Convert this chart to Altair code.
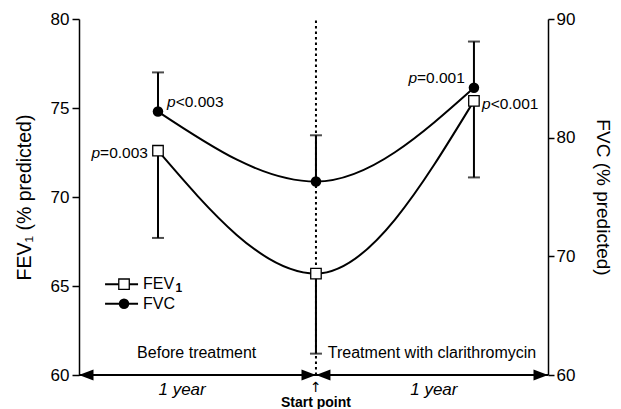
import altair as alt
import pandas as pd

# ---- data ----
months = [-8, 0, 8]                 # months relative to the start of clarithromycin
fev1 = [72.6, 65.7, 75.4]           # FEV1 (% predicted), left axis
fev1_low = [67.7, 61.2, 71.1]       # lower error bar end
fvc = [82.2, 76.3, 84.2]            # FVC (% predicted), right axis
fvc_high = [85.5, 80.2, 88.1]       # upper error bar end

x_domain = [-12, 11.75]
fev_domain = [60, 80]
fvc_domain = [60, 90]
fev_ticks = [60, 65, 70, 75, 80]
fvc_ticks = [60, 70, 80, 90]

# annotation positions (x in months, y in FEV1 units)
period_text = ["Before treatment", "Treatment with clarithromycin"]
period_x = [-6.04, 0.6]
period_y = [61.24, 61.24]
year_text = ["1 year", "1 year"]
year_x = [-6.78, 5.97]
year_y = [59.16, 59.16]

p_left_text = ["<0.003", "<0.001"]      # left-aligned labels
p_left_x = [-7.54, 8.41]
p_left_y = [75.34, 75.22]
p_right_text = ["=0.003", "=0.001"]     # right-aligned labels
p_right_x = [-8.51, 7.54]
p_right_y = [72.47, 76.69]

legend_labels = ["FEV", "FVC"]
legend_sub = ["1", ""]
legend_y = [65.1, 64.0]
legend_x0, legend_x1, legend_xm, legend_xt = -10.68, -9.01, -9.72, -8.76

FONT = "Liberation Sans"
FS = 16

df = pd.DataFrame({"month": months, "fev1": fev1, "fev1_low": fev1_low,
                   "fvc": fvc, "fvc_high": fvc_high})

xs = alt.Scale(domain=x_domain, nice=False, zero=False)
ls = alt.Scale(domain=fev_domain, nice=False, zero=False)
rs = alt.Scale(domain=fvc_domain, nice=False, zero=False)

left_axis = alt.Axis(values=fev_ticks, orient="left", grid=False, tickSize=7,
                     labelPadding=3, titlePadding=16, labelFontSize=17,
                     titleFontSize=19.5, titleFontWeight="normal",
                     labelFont=FONT, titleFont=FONT)
right_axis = alt.Axis(values=fvc_ticks, orient="right", grid=False, tickSize=6,
                      labelPadding=2, titlePadding=18, labelFontSize=17,
                      titleFontSize=19, titleFontWeight="normal",
                      labelFont=FONT, titleFont=FONT)
LT = "FEV\u2081 (% predicted)"
RT = "FVC (% predicted)"


def X(field="month"):
    return alt.X(f"{field}:Q", scale=xs, axis=None)


def LY(field):
    return alt.Y(f"{field}:Q", scale=ls, axis=left_axis, title=LT)


def RY(field):
    return alt.Y(f"{field}:Q", scale=rs, axis=right_axis, title=RT)


base = alt.Chart(df)

# ---- FEV1 (left) layer with annotations ----
vline = alt.Chart(pd.DataFrame({"x": [0], "y": [fev_domain[0]], "y2": [fev_domain[1]]})).mark_rule(
    color="black", strokeWidth=2, strokeDash=[2.5, 3]).encode(x=X("x"), y=LY("y"), y2="y2")

hline = alt.Chart(pd.DataFrame({"x": [x_domain[0]], "x2": [x_domain[1]], "y": [fev_domain[0]]})).mark_rule(
    color="black", strokeWidth=2).encode(x=X("x"), x2="x2", y=LY("y"))

arrows_left = alt.Chart(pd.DataFrame({"x": [x_domain[0], 0], "y": [fev_domain[0]] * 2})).mark_point(
    shape="M0,0L2,-0.75L2,0.75Z", size=210, filled=True, color="black", opacity=1
).encode(x=X("x"), y=LY("y"))
arrows_right = alt.Chart(pd.DataFrame({"x": [0, x_domain[1]], "y": [fev_domain[0]] * 2})).mark_point(
    shape="M0,0L-2,-0.75L-2,0.75Z", size=210, filled=True, color="black", opacity=1
).encode(x=X("x"), y=LY("y"))

fev_line = base.mark_line(color="black", strokeWidth=2, interpolate="monotone").encode(
    x=X(), y=LY("fev1"))
fev_err = base.mark_rule(color="black", strokeWidth=2).encode(x=X(), y=LY("fev1"), y2="fev1_low")
fev_cap = base.mark_tick(color="black", orient="horizontal", size=12, thickness=2).encode(
    x=X(), y=LY("fev1_low"))
fev_pts = base.mark_point(shape="square", size=110, filled=True, fill="white", stroke="black",
                          strokeWidth=1.3, opacity=1).encode(x=X(), y=LY("fev1"))

per_df = pd.DataFrame({"x": period_x, "y": period_y, "t": period_text})
per1 = alt.Chart(per_df.iloc[[0]]).mark_text(font=FONT, fontSize=FS, align="center", color="black").encode(
    x=X("x"), y=LY("y"), text="t:N")
per2 = alt.Chart(per_df.iloc[[1]]).mark_text(font=FONT, fontSize=FS, align="left", color="black").encode(
    x=X("x"), y=LY("y"), text="t:N")
years = alt.Chart(pd.DataFrame({"x": year_x, "y": year_y, "t": year_text})).mark_text(
    font=FONT, fontSize=FS + 1, fontStyle="italic", align="center", color="black").encode(
    x=X("x"), y=LY("y"), text="t:N")
start_arrow = alt.Chart(pd.DataFrame({"x": [0], "y": [59.27], "t": ["\u2191"]})).mark_text(
    font="DejaVu Sans", fontSize=14, align="center", color="black").encode(x=X("x"), y=LY("y"), text="t:N")
start_txt = alt.Chart(pd.DataFrame({"x": [0], "y": [58.45], "t": ["Start point"]})).mark_text(
    font=FONT, fontSize=14, fontWeight="bold", align="center", color="black").encode(
    x=X("x"), y=LY("y"), text="t:N")

pl = pd.DataFrame({"x": p_left_x, "y": p_left_y, "t": p_left_text, "p": ["p", "p"]})
pr = pd.DataFrame({"x": p_right_x, "y": p_right_y, "t": p_right_text, "p": ["p", "p"]})
pl_p = alt.Chart(pl).mark_text(font=FONT, fontSize=15.5, fontStyle="italic", align="left", color="black").encode(
    x=X("x"), y=LY("y"), text="p:N")
pl_t = alt.Chart(pl).mark_text(font=FONT, fontSize=15.5, align="left", dx=8.6, color="black").encode(
    x=X("x"), y=LY("y"), text="t:N")
pr_t = alt.Chart(pr).mark_text(font=FONT, fontSize=15.5, align="right", color="black").encode(
    x=X("x"), y=LY("y"), text="t:N")
pr_p = alt.Chart(pr).mark_text(font=FONT, fontSize=15.5, fontStyle="italic", align="right", dx=-47.8,
                               color="black").encode(x=X("x"), y=LY("y"), text="p:N")

leg = pd.DataFrame({"x0": [legend_x0] * 2, "x1": [legend_x1] * 2, "xm": [legend_xm] * 2,
                    "xt": [legend_xt] * 2, "y": legend_y, "t": legend_labels, "s": legend_sub})
leg_line = alt.Chart(leg).mark_rule(color="black", strokeWidth=2).encode(x=X("x0"), x2="x1", y=LY("y"))
leg_sq = alt.Chart(leg.iloc[[0]]).mark_point(shape="square", size=110, filled=True, fill="white",
                                             stroke="black", strokeWidth=1.3, opacity=1).encode(
    x=X("xm"), y=LY("y"))
leg_dot = alt.Chart(leg.iloc[[1]]).mark_point(shape="circle", size=110, filled=True, color="black",
                                              opacity=1).encode(x=X("xm"), y=LY("y"))
leg_txt = alt.Chart(leg).mark_text(font=FONT, fontSize=FS, align="left", color="black").encode(
    x=X("xt"), y=LY("y"), text="t:N")
leg_sub = alt.Chart(leg.iloc[[0]]).mark_text(font=FONT, fontSize=12, fontWeight="bold", align="left",
                                             dx=32.5, dy=4, color="black").encode(
    x=X("xt"), y=LY("y"), text="s:N")

left_layer = alt.layer(vline, hline, arrows_left, arrows_right, fev_line, fev_err, fev_cap, fev_pts,
                       per1, per2, years, start_arrow, start_txt, pl_p, pl_t, pr_t, pr_p,
                       leg_line, leg_sq, leg_dot, leg_txt, leg_sub)

# ---- FVC (right) layer ----
fvc_line = base.mark_line(color="black", strokeWidth=2, interpolate="monotone").encode(
    x=X(), y=RY("fvc"))
fvc_err = base.mark_rule(color="black", strokeWidth=2).encode(x=X(), y=RY("fvc"), y2="fvc_high")
fvc_cap = base.mark_tick(color="black", orient="horizontal", size=12, thickness=2).encode(
    x=X(), y=RY("fvc_high"))
fvc_pts = base.mark_point(shape="circle", size=110, filled=True, color="black", opacity=1).encode(
    x=X(), y=RY("fvc"))

right_layer = alt.layer(fvc_err, fvc_cap, fvc_line, fvc_pts)

chart = alt.layer(left_layer, right_layer).resolve_scale(y="independent").properties(
    width=469, height=356,
    autosize=alt.AutoSizeParams(type="none"),
    padding={"left": 71, "top": 11, "right": 65, "bottom": 34},
    background="white",
).configure_view(stroke=None).configure_axis(
    domainColor="black", domainWidth=1.5, tickColor="black", tickWidth=1.5,
    labelColor="black", titleColor="black")

chart.save("out.html", embed_options={"renderer": "svg", "actions": False})
